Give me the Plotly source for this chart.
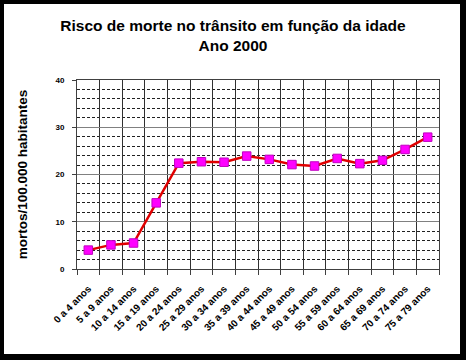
import plotly.graph_objects as go

categories = ["0 a 4 anos", "5 a 9 anos", "10 a 14 anos", "15 a 19 anos", "20 a 24 anos",
              "25 a 29 anos", "30 a 34 anos", "35 a 39 anos", "40 a 44 anos", "45 a 49 anos",
              "50 a 54 anos", "55 a 59 anos", "60 a 64 anos", "65 a 69 anos", "70 a 74 anos",
              "75 a 79 anos"]
values = [4.0, 5.1, 5.5, 14.0, 22.4, 22.7, 22.6, 23.9, 23.2, 22.1, 21.8, 23.4, 22.3, 23.0, 25.3, 27.9]
y_ticks = [0, 10, 20, 30, 40]

FONT = "Liberation Sans, Arial, sans-serif"

fig = go.Figure()
fig.add_trace(go.Scatter(
    x=categories, y=values, mode="lines+markers",
    line=dict(color="#e00000", width=2.5),
    marker=dict(symbol="square", size=8.5, color="#ff00ff", line=dict(color="#c000c0", width=1)),
    showlegend=False, cliponaxis=False,
))

W, H = 466, 360
L, R, T, B = 77, 27, 80, 91
pw, ph = W - L - R, H - T - B

def px(x):
    return (x - L) / pw

def py(y):
    return (H - B - y) / ph

shapes = []
# black frame (pixel based)
for x0, y0, x1, y1 in [(0, 0, 4, H), (460, 0, W, H), (0, 0, W, 4), (0, 354, W, H)]:
    shapes.append(dict(type="rect", xref="paper", yref="paper", x0=px(x0), x1=px(x1), y0=py(y1), y1=py(y0),
                       fillcolor="black", line=dict(width=0), layer="above"))

fig.update_layout(
    width=W, height=H,
    margin=dict(l=L, r=R, t=T, b=B),
    paper_bgcolor="white", plot_bgcolor="white",
    font=dict(family=FONT, color="black"),
    title=dict(text="<b>Risco de morte no trânsito em função da idade<br>Ano 2000</b>",
               x=0.5, xanchor="center", y=1 - 31 / H, yanchor="middle",
               font=dict(size=15.5, family=FONT, color="black")),
    shapes=shapes,
    xaxis=dict(
        type="category", tickson="boundaries", tickangle=-45,
        showgrid=True, gridcolor="#303030", gridwidth=1,
        ticks="outside", ticklen=5, tickcolor="#404040",
        showline=True, linecolor="#404040", linewidth=1, mirror=True,
        tickfont=dict(size=10, family=FONT, color="black", weight="bold"),
        ticklabelstandoff=9,
        range=[-0.5, 15.5], zeroline=False,
    ),
    yaxis=dict(
        range=[0, 40], tickvals=y_ticks, ticktext=[str(v) for v in y_ticks],
        showgrid=True, gridcolor="#808080", gridwidth=1,
        minor=dict(dtick=2, showgrid=True, gridcolor="#202020", griddash="3px,2px", gridwidth=1),
        ticks="outside", ticklen=4, tickcolor="#404040",
        showline=True, linecolor="#404040", linewidth=1, mirror=True,
        tickfont=dict(size=8, family=FONT, color="black", weight="bold"),
        ticklabelstandoff=6,
        zeroline=False,
        title=dict(text="<b>mortos/100.000 habitantes</b>", font=dict(size=13.5, family=FONT, color="black"), standoff=24),
    ),
)

fig.write_html("out.html")
